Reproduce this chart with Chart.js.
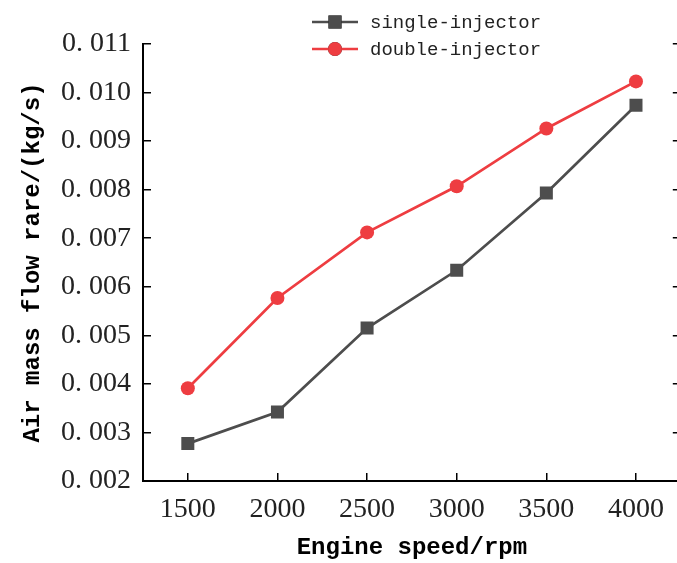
<!DOCTYPE html>
<html>
<head>
<meta charset="utf-8">
<script src="https://cdn.jsdelivr.net/npm/chart.js@4/dist/chart.umd.min.js"></script>
<style>
  html, body { margin: 0; padding: 0; background: #fff; overflow: hidden; }
  #wrap { width: 690px; height: 563px; }
</style>
</head>
<body>
<div id="wrap"><canvas id="air-chart"></canvas></div>
<script>
const speeds = [1500, 2000, 2500, 3000, 3500, 4000]
const singleInjector = [0.00277, 0.00342, 0.00515, 0.00634, 0.00793, 0.00974]
const doubleInjector = [0.00391, 0.00577, 0.00712, 0.00807, 0.00926, 0.01023]
const xTicks = [1500, 2000, 2500, 3000, 3500, 4000]
const xTickLabels = ['1500', '2000', '2500', '3000', '3500', '4000']
const yTicks = [0.002, 0.003, 0.004, 0.005, 0.006, 0.007, 0.008, 0.009, 0.010, 0.011]
const yTickLabels = ['0. 002', '0. 003', '0. 004', '0. 005', '0. 006', '0. 007', '0. 008', '0. 009', '0. 010', '0. 011']

const grey = '#4d4d4d',
      red = '#ee3d41',
      tickFont = { family: 'Liberation Serif', size: 28 },
      titleFont = { family: 'Liberation Mono', size: 24, weight: 'bold' };

const toPoints = (vals) => speeds.map((x, i) => ({ x: x, y: vals[i] }))

const series = [
  { label: 'single-injector', data: toPoints(singleInjector), color: grey, style: 'rect', r: 9.2 },
  { label: 'double-injector', data: toPoints(doubleInjector), color: red, style: 'circle', r: 7 }
]

// legend drawn by hand so the two rows sit over the plot like the original
const legendPlugin = {
  id: 'stackedLegend',
  afterDraw(chart) {
    const c = chart.ctx
    c.save()
    c.font = '19px "Liberation Mono"'
    c.textBaseline = 'middle'
    series.forEach((s, i) => {
      const y = 22 + i * 27
      c.strokeStyle = s.color
      c.lineWidth = 2.5
      c.beginPath()
      c.moveTo(312, y)
      c.lineTo(358, y)
      c.stroke()
      Chart.helpers.drawPoint(c, { pointStyle: s.style, radius: s.r, borderWidth: 0 }, 335, y)
      c.fillStyle = s.color
      c.fill()
      c.fillStyle = '#222'
      c.fillText(s.label, 370, y + 1)
    })
    c.restore()
  }
}

const ctx = document.getElementById('air-chart').getContext('2d')
const airChart = new Chart(ctx, {
  type: 'line',
  data: {
    datasets: series.map((s) => ({
      label: s.label,
      data: s.data,
      borderColor: s.color,
      backgroundColor: s.color,
      borderWidth: 2.7,
      pointStyle: s.style,
      pointRadius: s.r,
      pointBorderWidth: 0,
      pointHoverRadius: s.r,
      tension: 0
    }))
  },
  options: {
    responsive: true,
    maintainAspectRatio: false,
    animation: false,
    layout: { padding: { top: 44, right: 0, left: 0, bottom: 0 } },
    plugins: { legend: { display: false }, tooltip: { enabled: false } },
    scales: {
      x: {
        type: 'linear',
        min: 1250,
        max: 4250,
        afterBuildTicks: (s) => { s.ticks = xTicks.map((v) => ({ value: v })) },
        afterFit: (s) => { s.height = 82 },
        grid: { drawOnChartArea: false, tickLength: -8, color: '#000', lineWidth: 1.5 },
        border: { color: '#000', width: 2 },
        ticks: {
          font: tickFont,
          color: '#222',
          padding: 20,
          maxRotation: 0,
          callback: (v, i) => xTickLabels[i]
        },
        title: { display: true, text: 'Engine speed/rpm', font: titleFont, color: '#000', padding: { top: 0, bottom: 1 } }
      },
      y: {
        min: 0.002,
        max: 0.011,
        afterBuildTicks: (s) => { s.ticks = yTicks.map((v) => ({ value: v })) },
        afterFit: (s) => { s.width = 143 },
        grid: { drawOnChartArea: false, tickLength: -8, color: '#000', lineWidth: 1.5 },
        border: { color: '#000', width: 2 },
        ticks: {
          font: tickFont,
          color: '#222',
          padding: 20,
          callback: (v, i) => yTickLabels[i]
        },
        title: { display: true, text: 'Air mass flow rare/(kg/s)', font: titleFont, color: '#000', padding: { top: 19, bottom: 0 } }
      },
      y2: {
        position: 'right',
        min: 0.002,
        max: 0.011,
        afterBuildTicks: (s) => { s.ticks = yTicks.map((v) => ({ value: v })) },
        afterFit: (s) => { s.width = 7 },
        grid: { drawOnChartArea: false, tickLength: -8, color: '#000', lineWidth: 1.5 },
        border: { color: '#000', width: 2 },
        ticks: { display: false }
      }
    }
  },
  plugins: [legendPlugin]
})
</script>
</body>
</html>
